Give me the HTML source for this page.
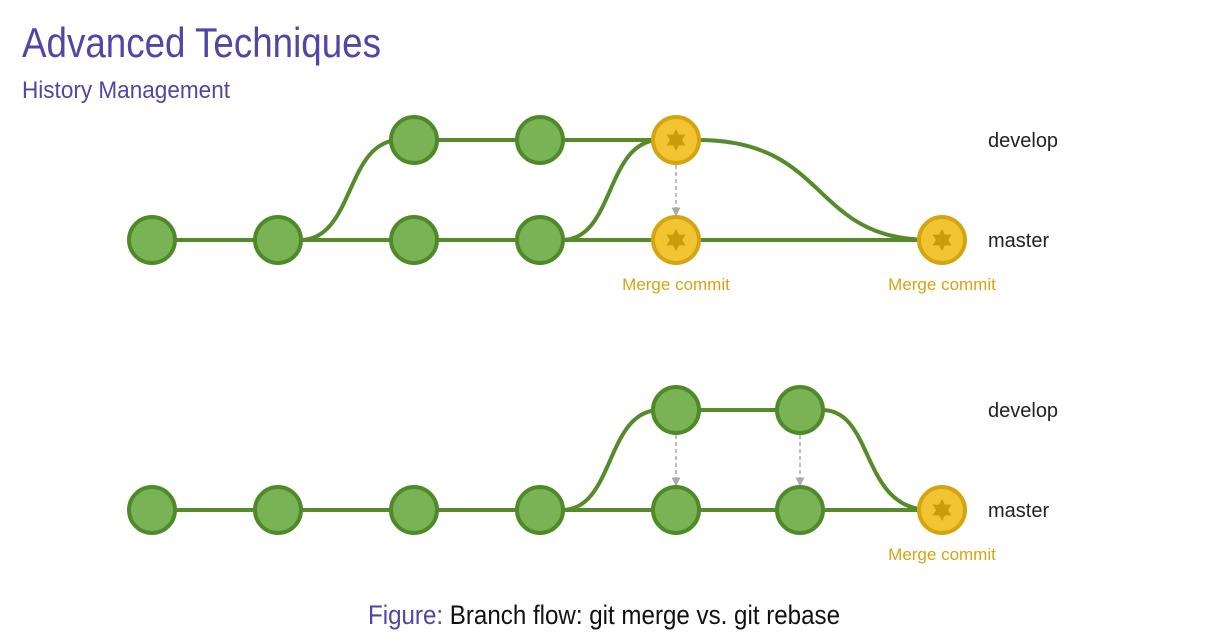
<!DOCTYPE html>
<html><head><meta charset="utf-8"><style>
html,body{margin:0;padding:0;background:#fff;width:1206px;height:642px;overflow:hidden}
</style></head><body>
<svg width="1206" height="642" xmlns="http://www.w3.org/2000/svg">
<defs>
<marker id="ah" markerWidth="6" markerHeight="6" refX="5" refY="3" orient="auto"><path d="M0,0 L6,3 L0,6 z" fill="#aaa"/></marker>
<g id="g"><circle r="23" fill="#7ab356" stroke="#4f8a28" stroke-width="4"/></g>
<g id="y"><circle r="23" fill="#f2c431" stroke="#d4a511" stroke-width="4"/><polygon points="0,-11 3,-5.2 9.5,-5.5 6,0 9.5,5.5 3,5.2 0,11 -3,5.2 -9.5,5.5 -6,0 -9.5,-5.5 -3,-5.2" fill="#c99c0c"/></g>
</defs>
<text x="22" y="57" font-family="Liberation Sans Narrow, Liberation Sans, sans-serif" font-size="42" fill="#5046a8" textLength="359" lengthAdjust="spacingAndGlyphs">Advanced Techniques</text>
<text x="22" y="98" font-family="Liberation Sans Narrow, Liberation Sans, sans-serif" font-size="24" fill="#5046a8" textLength="208" lengthAdjust="spacingAndGlyphs">History Management</text>
<g fill="none" stroke="#568b2b" stroke-width="4">
<path d="M152,240 H942"/>
<path d="M300,240 C355,240 345,140 400,140 H676"/>
<path d="M562,240 C615,240 605,140 660,140"/>
<path d="M698,140 C830,140 810,240 930,240"/>
<path d="M152,510 H942"/>
<path d="M562,510 C615,510 605,410 660,410 H800"/>
<path d="M822,410 C875,410 860,510 930,510"/>
</g>
<g stroke="#aaa" stroke-width="1.5" stroke-dasharray="4,3" marker-end="url(#ah)">
<line x1="676" y1="165" x2="676" y2="215"/>
<line x1="676" y1="435" x2="676" y2="485"/>
<line x1="800" y1="435" x2="800" y2="485"/>
</g>
<use href="#g" x="152" y="240"/><use href="#g" x="278" y="240"/><use href="#g" x="414" y="240"/><use href="#g" x="540" y="240"/>
<use href="#g" x="414" y="140"/><use href="#g" x="540" y="140"/>
<use href="#y" x="676" y="140"/><use href="#y" x="676" y="240"/><use href="#y" x="942" y="240"/>
<use href="#g" x="152" y="510"/><use href="#g" x="278" y="510"/><use href="#g" x="414" y="510"/><use href="#g" x="540" y="510"/>
<use href="#g" x="676" y="510"/><use href="#g" x="800" y="510"/><use href="#g" x="676" y="410"/><use href="#g" x="800" y="410"/>
<use href="#y" x="942" y="510"/>
<g font-family="Liberation Sans, sans-serif" font-size="20" fill="#222">
<text x="988" y="147">develop</text><text x="988" y="247">master</text>
<text x="988" y="417">develop</text><text x="988" y="517">master</text>
</g>
<g font-family="Liberation Sans, sans-serif" font-size="17" fill="#d4a511" text-anchor="middle">
<text x="676" y="290">Merge commit</text><text x="942" y="290">Merge commit</text><text x="942" y="560">Merge commit</text>
</g>
<text x="604" y="624" text-anchor="middle" font-family="Liberation Sans Narrow, Liberation Sans, sans-serif" font-size="27" textLength="472" lengthAdjust="spacingAndGlyphs"><tspan fill="#5046a8">Figure:</tspan><tspan fill="#111"> Branch flow: git merge vs. git rebase</tspan></text>
</svg>
</body></html>
